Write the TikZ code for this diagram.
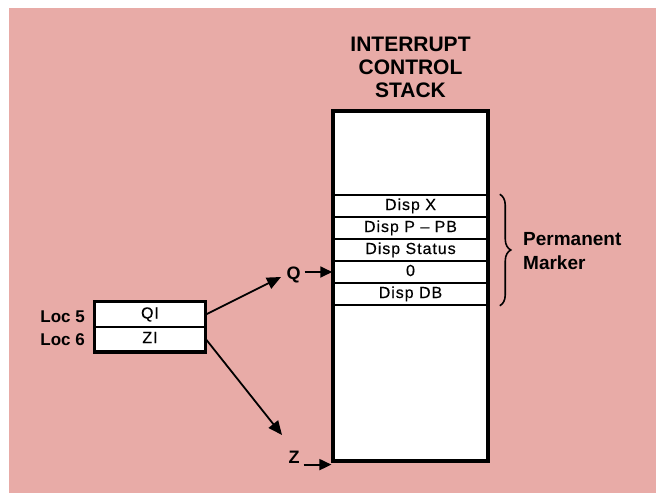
\documentclass[tikz,border=0pt]{standalone}
\usepackage{fontspec}
\setmainfont{Liberation Sans}
\newfontfamily\rowfont[LetterSpace=6,FakeBold=0.3]{Liberation Sans}
\usetikzlibrary{arrows.meta,decorations.pathreplacing}
\definecolor{bgpink}{RGB}{232,171,167}

\begin{document}
\begin{tikzpicture}[x=1pt, y=-1pt,
  lbl/.style={inner sep=0pt, font=\fontsize{17}{20}\selectfont\bfseries},
  cell/.style={draw, line width=1.5pt, minimum width=155pt, minimum height=22pt,
    inner sep=0pt, text height=11pt, text depth=3pt,
    font=\rowfont\fontsize{16}{18}\selectfont},
  loccell/.style={cell, fill=white, minimum width=110pt, minimum height=24.5pt},
  outline/.style={line width=3.2pt},
  arr/.style={line width=1.8pt, -{Triangle[length=14pt,width=12pt]}},
  sarr/.style={line width=1.8pt, -{Triangle[length=12pt,width=11pt]}}]
\useasboundingbox (0,0) rectangle (659,493);
\fill[white] (0,0) rectangle (659,493);
\fill[bgpink] (9,8) rectangle (656,493);

% the stack
\node[draw, outline, fill=white, minimum width=155pt, minimum height=350pt,
  inner sep=0pt] (stack) at (410.5,286) {};
\node[cell] (dispx) at (410.5,206) {Disp X};
\node[cell] (disppb) at (410.5,228) {Disp P \textendash{} PB};
\node[cell] (dispst) at (410.5,250) {Disp Status};
\node[cell] (zero) at (410.5,272) {0};
\node[cell] (dispdb) at (410.5,294) {Disp DB};
\node[lbl, font=\fontsize{21}{23}\selectfont\bfseries, align=center, anchor=north]
  (title) at (410.5,37) {INTERRUPT\\CONTROL\\STACK};

% permanent marker
\draw[line width=1.6pt, decorate, decoration={brace, amplitude=11pt}]
  ([xshift=11pt]dispx.north east) -- ([xshift=11pt]dispdb.south east);
\node[lbl, font=\fontsize{19}{24}\selectfont\bfseries, align=left, anchor=north west]
  (perm) at (523,232) {Permanent\\Marker};

% locations 5 and 6
\node[loccell] (qi) at (150,314.5) {QI};
\node[loccell] (zi) at (150,339) {ZI};
\draw[outline] (qi.north west) rectangle (zi.south east);
\node[lbl, anchor=base east] (loc5) at (85,322) {Loc 5};
\node[lbl, anchor=base east] (loc6) at (85,345) {Loc 6};

% pointers
\coordinate (qtip) at (281,277);
\coordinate (ztip) at (282,435);
\draw[arr] (qi.east) -- (qtip);
\draw[arr] (zi.east) -- (ztip);
\node[lbl, font=\fontsize{18}{20}\selectfont\bfseries, anchor=base] (q) at (293.5,279.5) {Q};
\node[lbl, font=\fontsize{18}{20}\selectfont\bfseries, anchor=base] (z) at (294,463) {Z};
\draw[sarr, shorten <=4pt] (q.east |- zero.west) -- (zero.west);
\draw[sarr, shorten <=4pt] ([yshift=-2pt]z.east |- stack.south west) -- ([yshift=-2pt]stack.south west);
\end{tikzpicture}
\end{document}
